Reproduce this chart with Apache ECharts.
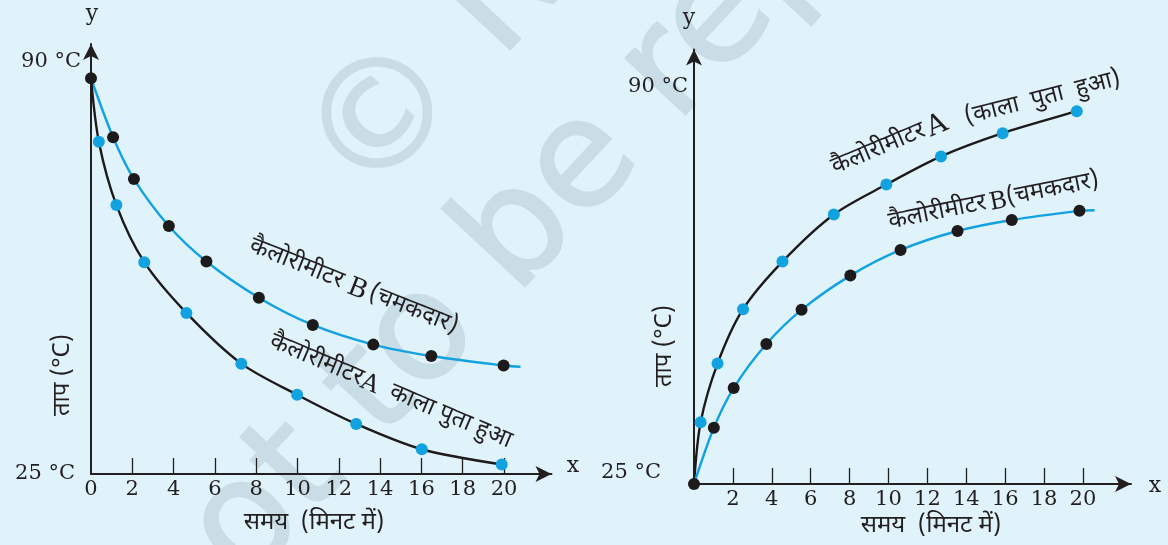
<!DOCTYPE html>
<html><head><meta charset="utf-8">
<script src="https://cdn.jsdelivr.net/npm/echarts@6/dist/echarts.min.js"></script>
<style>html,body{margin:0;padding:0;background:#e0f2fa;}#c{width:1168px;height:545px;}</style>
</head><body><div id="c"></div>
<script>
// ---------- data ----------
const xTickValues = [2, 4, 6, 8, 10, 12, 14, 16, 18, 20];
const xLabelValuesLeft = [0, 2, 4, 6, 8, 10, 12, 14, 16, 18, 20];
const yLabelValues = [25, 90];

// Left panel: cooling
const leftTimeB = [0, 1.07, 2.08, 3.77, 5.59, 8.13, 10.74, 13.67, 16.48, 19.98];
const leftTempB = [87.4, 78.1, 71.5, 64.1, 58.5, 52.8, 48.5, 45.4, 43.6, 42.1];
const leftCurveBEnd = [20.8, 41.9];
const leftTimeA = [0.38, 1.23, 2.58, 4.62, 7.28, 9.98, 12.84, 16.02, 19.89];
const leftTempA = [77.4, 67.4, 58.4, 50.4, 42.4, 37.5, 32.9, 28.9, 26.5];
const leftCurveAStart = [0, 87.4];

// Right panel: heating
const rightTimeA = [0.34, 1.21, 2.52, 4.55, 7.19, 9.89, 12.70, 15.87, 19.68];
const rightTempA = [35.1, 44.7, 53.6, 61.4, 69.1, 74.0, 78.6, 82.4, 86.0];
const rightCurveAStart = [0, 25];
const rightCurveAEnd = [19.95, 86.3];
const rightTimeB = [0, 1.02, 2.04, 3.72, 5.53, 8.04, 10.62, 13.55, 16.34, 19.82];
const rightTempB = [25, 34.2, 40.7, 47.9, 53.5, 59.1, 63.3, 66.4, 68.2, 69.7];
const rightCurveBEnd = [20.6, 69.8];

// ---------- styling ----------
const INK = '#231f20';
const BLUE = '#12a2e0';
const BLACK = '#1c1a1b';
const SERIF = '"DejaVu Serif", "Liberation Serif", serif';
const DEVA = '"Noto Sans Devanagari","Noto Serif Devanagari","Lohit Devanagari","Mukta","Gargi",sans-serif';
const DFS = '24px ';
const zip = (xs, ys) => xs.map((x, i) => [x, ys[i]]);

function xAxisOf(gridIndex, max, labels) {
  return {
    type: 'value', gridIndex, min: 0, max,
    axisLine: { onZero: false, lineStyle: { color: INK, width: 2 }, symbol: ['none', 'arrow'], symbolSize: [12, 16] },
    axisTick: { show: true, inside: true, length: 16, customValues: xTickValues, lineStyle: { color: INK, width: 1.3 } },
    axisLabel: { customValues: labels, margin: 5, color: INK, fontFamily: SERIF, fontSize: 21 },
    splitLine: { show: false }
  };
}
function yAxisOf(gridIndex, max, rich) {
  return {
    type: 'value', gridIndex, min: 25, max,
    axisLine: { onZero: false, lineStyle: { color: INK, width: 2 }, symbol: ['none', 'arrow'], symbolSize: [12, 16] },
    axisTick: { show: false },
    axisLabel: {
      customValues: yLabelValues, margin: 6, color: INK, fontFamily: SERIF, fontSize: 21,
      formatter: v => (v === 90 ? '{t|90 °C}' : '{u|25 °C}'),
      rich
    },
    splitLine: { show: false }
  };
}
function curve(xi, data, color) {
  return { type: 'line', xAxisIndex: xi, yAxisIndex: xi, data, smooth: 0.3,
    showSymbol: false, symbol: 'none', lineStyle: { color, width: 2.4 }, z: 3, silent: true };
}
function dots(xi, data, color) {
  return { type: 'scatter', xAxisIndex: xi, yAxisIndex: xi, data, symbolSize: 12,
    itemStyle: { color, opacity: 1 }, z: 5 };
}

const chart = echarts.init(document.getElementById('c'), null, { renderer: 'canvas' });
const richL = {
  t: { fontFamily: SERIF, fontSize: 21, color: INK, padding: [0, 4, 0, 0] },
  u: { fontFamily: SERIF, fontSize: 21, color: INK, padding: [0, 10, 0, 0] }
};
const richR = {
  t: { fontFamily: SERIF, fontSize: 21, color: INK, padding: [0, 0, 0, 0] },
  u: { fontFamily: SERIF, fontSize: 21, color: INK, padding: [0, 27, 22, 0] }
};

const WM = '#c8dde5';
const WMFONT = '150px "DejaVu Sans", Verdana, sans-serif';

function devaText(x, y, rotation, text) {
  return { type: 'text', x, y, rotation, style: { text, font: DFS + DEVA, fill: INK, align: 'center', verticalAlign: 'middle' } };
}
function richLabel(x, y, rotation, text, latinSize) {
  return { type: 'text', x, y, rotation, style: {
    text, align: 'center', verticalAlign: 'middle',
    rich: { d: { font: DFS + DEVA, fill: INK }, l: { font: latinSize + 'px ' + SERIF, fill: INK } } } };
}

chart.setOption({
  backgroundColor: '#e0f2fa',
  animation: false,
  grid: [
    { left: 91, right: 616.5, top: 44, bottom: 71 },
    { left: 694, right: 37, top: 49.5, bottom: 61 }
  ],
  xAxis: [xAxisOf(0, 22.3, xLabelValuesLeft), xAxisOf(1, 22.47, xTickValues)],
  yAxis: [yAxisOf(0, 92.8, richL), yAxisOf(1, 96.1, richR)],
  series: [
    curve(0, zip(leftTimeB, leftTempB).concat([leftCurveBEnd]), BLUE),
    curve(0, [leftCurveAStart].concat(zip(leftTimeA, leftTempA)), BLACK),
    dots(0, zip(leftTimeB, leftTempB), BLACK),
    dots(0, zip(leftTimeA, leftTempA), BLUE),
    curve(1, [rightCurveAStart].concat(zip(rightTimeA, rightTempA), [rightCurveAEnd]), BLACK),
    curve(1, zip(rightTimeB, rightTempB).concat([rightCurveBEnd]), BLUE),
    dots(1, zip(rightTimeA, rightTempA), BLUE),
    dots(1, zip(rightTimeB, rightTempB), BLACK)
  ],
  graphic: [
    // watermark
    { type: 'text', x: 337, y: 178, rotation: 0.82, z: -10, silent: true,
      style: { text: '© NCERT', font: WMFONT, fill: WM, stroke: WM, lineWidth: 2, align: 'left', verticalAlign: 'middle' } },
    { type: 'text', x: 152, y: 629, rotation: 0.82, z: -10, silent: true,
      style: { text: 'not to be republished', font: WMFONT, fill: WM, stroke: WM, lineWidth: 2, align: 'left', verticalAlign: 'middle' } },
    // axis end letters
    { type: 'text', x: 92, y: 14, style: { text: 'y', font: '22px ' + SERIF, fill: INK, align: 'center', verticalAlign: 'middle' } },
    { type: 'text', x: 573, y: 466, style: { text: 'x', font: '22px ' + SERIF, fill: INK, align: 'center', verticalAlign: 'middle' } },
    { type: 'text', x: 689, y: 18, style: { text: 'y', font: '22px ' + SERIF, fill: INK, align: 'center', verticalAlign: 'middle' } },
    { type: 'text', x: 1155, y: 486, style: { text: 'x', font: '22px ' + SERIF, fill: INK, align: 'center', verticalAlign: 'middle' } },
    // axis names
    { type: 'text', x: 65, y: 375, rotation: Math.PI / 2, style: { text: 'ताप (°C)', font: DFS + DEVA, fill: INK, align: 'center', verticalAlign: 'middle' } },
    { type: 'text', x: 667, y: 346, rotation: Math.PI / 2, style: { text: 'ताप (°C)', font: DFS + DEVA, fill: INK, align: 'center', verticalAlign: 'middle' } },
    devaText(314, 525, 0, 'समय  (मिनट में)'),
    devaText(931, 528, 0, 'समय  (मिनट में)'),
    // curve labels, left panel
    richLabel(353, 288, -0.38, '{d|कैलोरीमीटर}  {l|B} {d|(चमकदार)}', 26),
    richLabel(390, 393, -0.40, '{d|कैलोरीमीटर}{l|A}    {d|काला पुता हुआ}', 24),
    // curve labels, right panel
    richLabel(890, 146, 0.40, '{d|कैलोरीमीटर} {l|A}', 28),
    devaText(1043, 100, 0.25, '(काला  पुता  हुआ)'),
    richLabel(994, 203, 0.2, '{d|कैलोरीमीटर} {l|B}{d|(चमकदार)}', 24)
  ]
});
</script></body></html>
